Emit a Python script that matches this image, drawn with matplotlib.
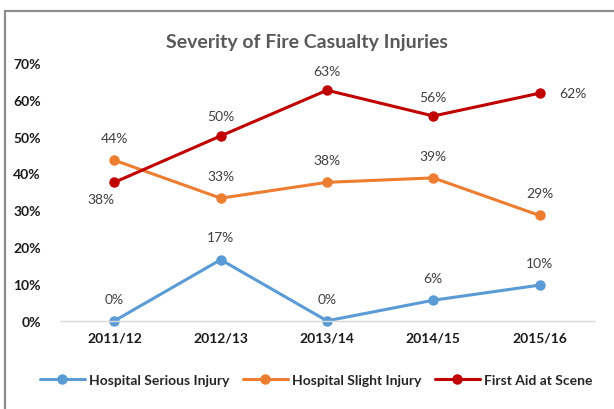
import matplotlib
matplotlib.use('Agg')
import matplotlib.pyplot as plt
from matplotlib.patches import Rectangle

years = ['2011/12', '2012/13', '2013/14', '2014/15', '2015/16']
serious = [0.0, 16.6, 0.0, 5.6, 9.7]
slight = [43.6, 33.3, 37.6, 38.8, 28.6]
first_aid = [37.6, 50.2, 62.6, 55.6, 61.8]

plt.rcParams['font.family'] = ['Lato', 'DejaVu Sans']

fig = plt.figure(figsize=(6.14, 4.10), dpi=100)
ax = fig.add_axes([0.098, 0.215, 0.871, 0.629])

# outer chart frame (cut off on right and bottom like the source)
fig.patches.append(Rectangle((5 / 614, -0.1), 1.2, 1 - 12 / 410 + 0.1,
                             transform=fig.transFigure, fill=False,
                             edgecolor='#8c8c8c', lw=1.6))

x = range(len(years))
series = [
    ('Hospital Serious Injury', serious, '#5B9BD5'),
    ('Hospital Slight Injury', slight, '#ED7D31'),
    ('First Aid at Scene', first_aid, '#C00000'),
]
for name, vals, col in series:
    ax.plot(x, vals, color=col, lw=2.2, marker='o', ms=6.5, label=name,
            solid_capstyle='round')

lab_col = '#404040'
def lab(xi, v, dx=0, dy=14):
    ax.annotate('{:.0f}%'.format(v), (xi, v), xytext=(dx, dy),
                textcoords='offset points', ha='center', va='center',
                fontsize=10, color=lab_col)

for i, v in enumerate(serious):
    lab(i, v, dy=16)
for i, v in enumerate(slight):
    lab(i, v, dy=16)
for i, v in enumerate(first_aid):
    if i == 0:
        lab(i, v, dx=-10, dy=-12)
    elif i == 4:
        lab(i, v, dx=24, dy=0)
    else:
        lab(i, v, dy=14)

ax.set_xlim(-0.51, 4.52)
ax.set_ylim(0, 70)
ax.set_yticks(range(0, 71, 10))
ax.set_yticklabels(['{}%'.format(t) for t in range(0, 71, 10)])
ax.set_xticks(list(x))
ax.set_xticklabels(years)
for t in ax.get_xticklabels() + ax.get_yticklabels():
    t.set_fontweight('bold')
    t.set_fontsize(10)
    t.set_color('#1a1a1a')
ax.tick_params(length=0, pad=8)
ax.tick_params(axis='y', pad=14)
for s in ['top', 'right', 'left']:
    ax.spines[s].set_visible(False)
ax.spines['bottom'].set_color('#d9d9d9')
ax.spines['bottom'].set_linewidth(1)
ax.set_clip_on(False)
for l in ax.lines:
    l.set_clip_on(False)

fig.text(0.5, 0.897, 'Severity of Fire Casualty Injuries', ha='center',
         va='center', fontsize=14, fontweight='bold', color='#595959')

leg = fig.legend(loc='center', bbox_to_anchor=(0.515, 0.071), ncol=3,
                 frameon=False, fontsize=10, handlelength=3.2,
                 columnspacing=1.0, handletextpad=0.3)
for t in leg.get_texts():
    t.set_fontweight('bold')
    t.set_color('#262626')

plt.savefig('out.png', dpi=100)
